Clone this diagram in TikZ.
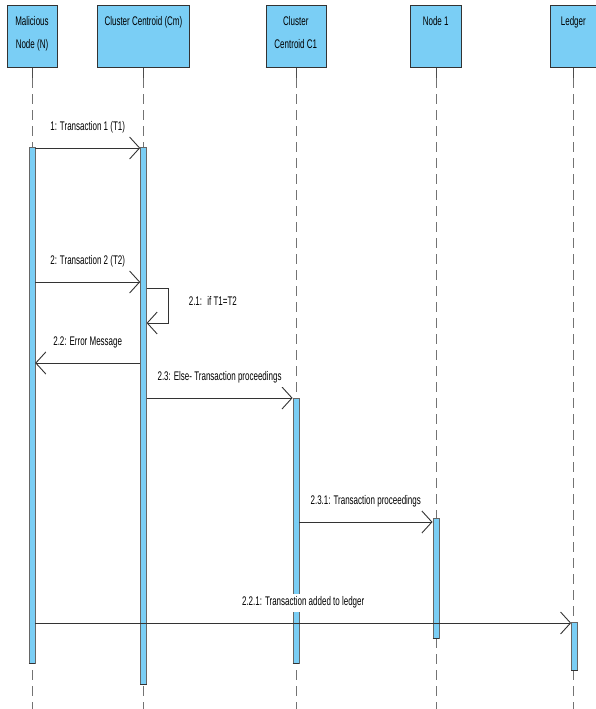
\documentclass[tikz,border=0pt]{standalone}
\usepackage{fontspec}
\setmainfont{Liberation Sans}[FakeStretch=0.64]
\usetikzlibrary{arrows.meta, positioning}
\definecolor{lifeblue}{RGB}{122,206,245}

\begin{document}
\begin{tikzpicture}[x=1pt, y=-1pt,
  hdr/.style={draw=black!80, fill=lifeblue, minimum height=62pt, inner sep=0pt},
  hdrtxt/.style={anchor=north, align=center, inner sep=0pt,
                 font=\fontsize{12.5}{23}\selectfont},
  act/.style={draw=black!60, fill=lifeblue, minimum width=6pt, inner sep=0pt, anchor=north},
  life/.style={draw=black!55, dash pattern=on 10pt off 6pt},
  msg/.style={draw=black!80, line width=0.9pt,
              -{Straight Barb[length=10pt, width=22pt, line width=0.9pt]}},
  lbl/.style={font=\fontsize{12.5}{14}\selectfont, fill=white, inner xsep=1pt, inner ysep=3pt},
  shade/.style={line width=1.3pt, black!80}
]
  \useasboundingbox (0,0) rectangle (595,709);
  \coordinate (bottom) at (0,709);

  % lifeline heads
  \node[hdr, minimum width=50pt] (hdrN) at (32,36) {};
  \node[hdr, minimum width=92pt, right=40pt of hdrN] (hdrCm) {};
  \node[hdr, minimum width=60pt, right=76pt of hdrCm] (hdrC1) {};
  \node[hdr, minimum width=51pt, right=84pt of hdrC1] (hdrNd) {};
  \node[hdr, minimum width=45.5pt, right=89pt of hdrNd] (hdrL) {};

  \node[hdrtxt] (txtN)  at ([yshift=-11pt]hdrN.north)  {Malicious\\Node (N)};
  \node[hdrtxt] (txtCm) at ([yshift=-11pt]hdrCm.north) {Cluster Centroid (Cm)};
  \node[hdrtxt] (txtC1) at ([yshift=-11pt]hdrC1.north) {Cluster\\Centroid C1};
  \node[hdrtxt] (txtNd) at ([yshift=-11pt]hdrNd.north) {Node 1};
  \node[hdrtxt] (txtL)  at ([yshift=-11pt]hdrL.north)  {Ledger};

  % lifelines
  \foreach \h in {hdrN, hdrCm, hdrC1, hdrNd, hdrL} {
    \draw[black!70] (\h.south) -- ++(0,11) coordinate (ls);
    \draw[life] (ls) -- (\h.south |- bottom);
    \draw[shade] (\h.south west) -- (\h.south east);
  }

  % activation bars
  \node[act, minimum height=516pt] (actN)  at (hdrN.south |- 0,147)  {};
  \node[act, minimum height=537pt] (actCm) at (hdrCm.south |- 0,147) {};
  \node[act, minimum height=265pt] (actC1) at (hdrC1.south |- 0,398) {};
  \node[act, minimum height=120pt] (actNd) at (hdrNd.south |- 0,518) {};
  \node[act, minimum height=48pt]  (actL)  at ([xshift=1pt]hdrL.south |- 0,622) {};
  \foreach \a in {actN, actCm, actC1, actNd, actL}
    \draw[shade] (\a.south west) -- (\a.south east);

  % messages
  \coordinate (m1)   at (0,148);
  \coordinate (m2)   at (0,282);
  \coordinate (m21a) at (0,288);
  \coordinate (m21b) at (0,323);
  \coordinate (m22)  at (0,363);
  \coordinate (m23)  at (0,398);
  \coordinate (m231) at (0,522);
  \coordinate (m221) at (0,623);

  \draw[msg] (actN.east |- m1) -- node[lbl, above=11pt] (l1) {1: Transaction 1 (T1)} (actCm.west |- m1);
  \draw[msg] (actN.east |- m2) -- node[lbl, above=11pt] (l2) {2: Transaction 2 (T2)} (actCm.west |- m2);
  \draw[msg] (actCm.east |- m21a) -- ++(22,0) coordinate (loopR) |- (actCm.east |- m21b);
  \node[lbl, anchor=west, right=19pt of loopR, yshift=-13pt] (l21) {2.1: \ if T1=T2};
  \draw[msg] (actCm.west |- m22) -- node[lbl, above=11pt] (l22) {2.2: Error Message} (actN.east |- m22);
  \draw[msg] (actCm.east |- m23) -- node[lbl, above=11pt] (l23) {2.3: Else- Transaction proceedings} (actC1.west |- m23);
  \draw[msg] (actC1.east |- m231) -- node[lbl, above=11pt] (l231) {2.3.1: Transaction proceedings} (actNd.west |- m231);
  \draw[msg] (actN.east |- m221) -- node[lbl, above=11pt] (l221) {2.2.1: Transaction added to ledger} (actL.west |- m221);
\end{tikzpicture}
\end{document}
